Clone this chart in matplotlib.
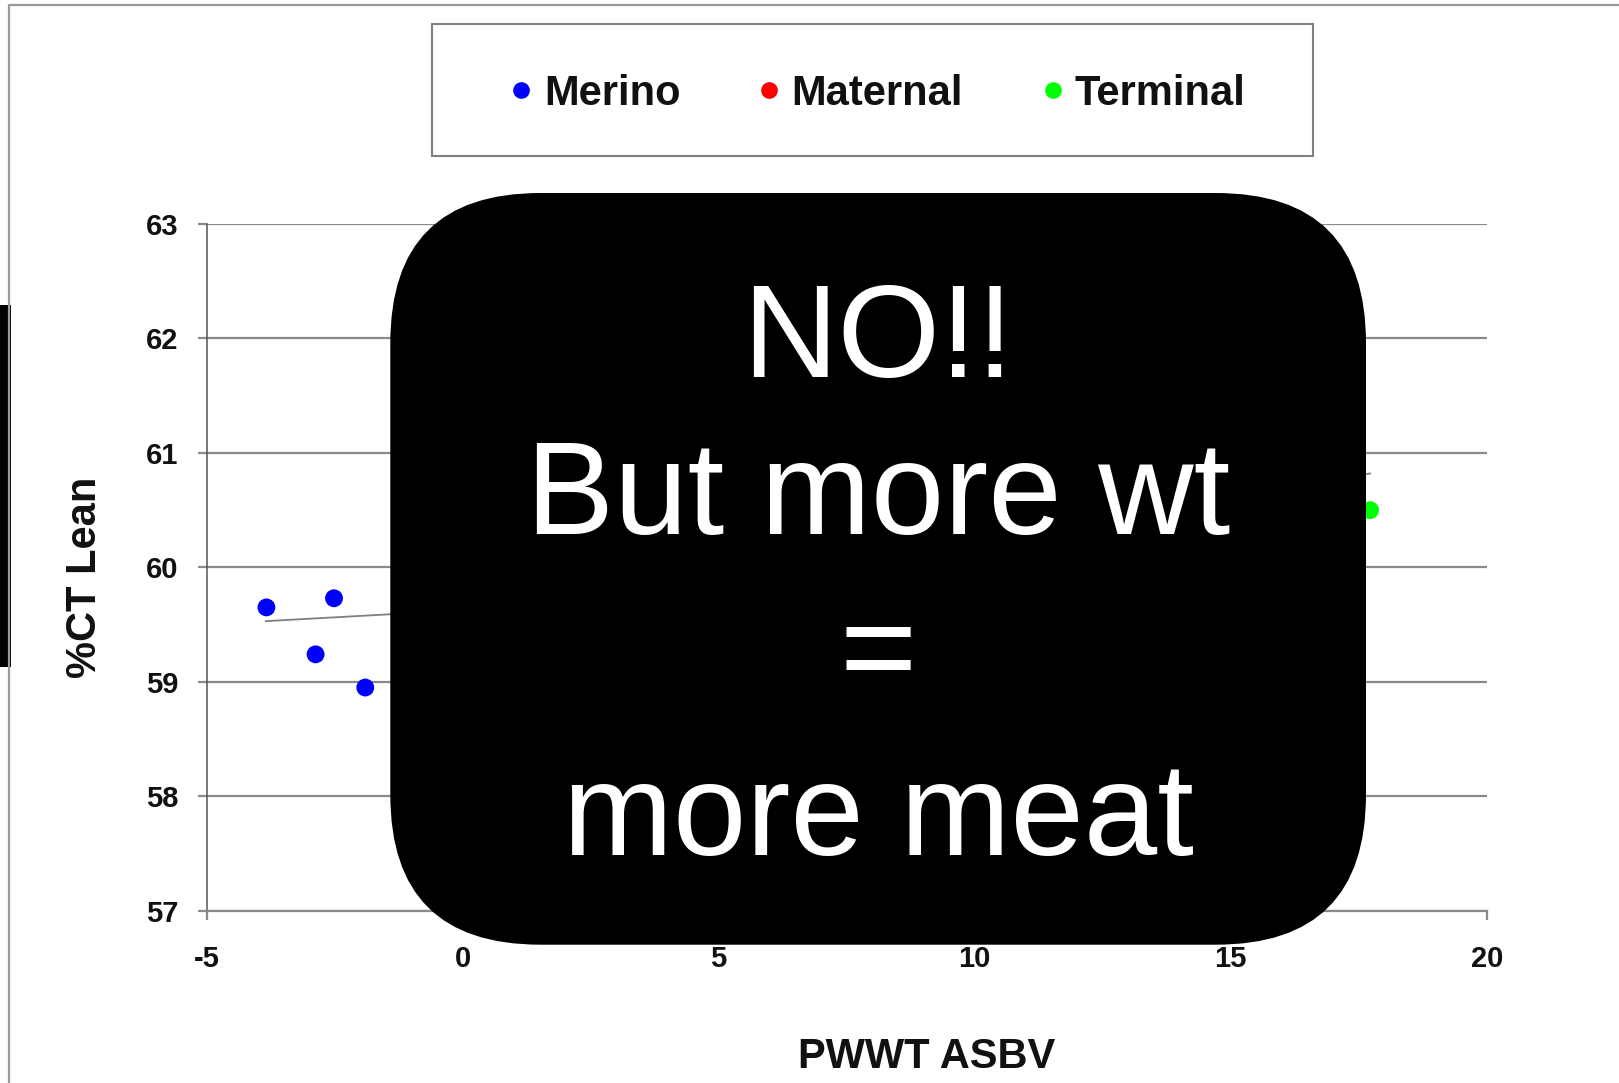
import matplotlib
matplotlib.use("Agg")
import matplotlib.pyplot as plt
from matplotlib.patches import FancyBboxPatch, Rectangle

# ---- data ----
series_names = ["Merino", "Maternal", "Terminal"]
series_colors = ["#0000FF", "#FF0000", "#00FF00"]
merino_x = [-3.83, -2.51, -2.87, -1.90]
merino_y = [59.65, 59.73, 59.24, 58.95]
maternal_x = []
maternal_y = []
terminal_x = [17.72]
terminal_y = [60.50]
trend_x = [-3.84, -1.42, 17.64, 17.72]
trend_y = [59.53, 59.59, 60.815, 60.82]
x_ticks = [-5, 0, 5, 10, 15, 20]
y_ticks = [57, 58, 59, 60, 61, 62, 63]
x_label = "PWWT ASBV"
y_label = "%CT Lean"
box_lines = ["NO!!", "But more wt", "=", "more meat"]

W, H = 1619, 1083
DPI = 100
FONT = ["Liberation Sans", "DejaVu Sans"]
plt.rcParams["font.family"] = FONT
plt.rcParams["axes.unicode_minus"] = False

fig = plt.figure(figsize=(W / DPI, H / DPI), dpi=DPI, facecolor="white")

# main axes, placed in pixels
L, R, T, B = 206.5, 1486.8, 224.0, 910.7
ax = fig.add_axes([L / W, 1 - B / H, (R - L) / W, (B - T) / H])
ax.set_xlim(-5, 20)
ax.set_ylim(57, 63)
ax.set_xticks(x_ticks)
ax.set_yticks(y_ticks)
grid_c = "#8a8a8a"
ax.yaxis.grid(True, color=grid_c, lw=1.6, zorder=0)
ax.set_axisbelow(True)
for s in ["top", "right"]:
    ax.spines[s].set_visible(False)
ax.spines["left"].set_color("#555555")
ax.spines["left"].set_linewidth(1.1)
ax.spines["bottom"].set_color(grid_c)
ax.spines["bottom"].set_linewidth(1.6)
ax.tick_params(axis="y", length=6.5, width=1.6, color=grid_c, pad=13.5,
               labelsize=21, direction="out")
ax.tick_params(axis="x", length=6.5, width=1.6, color=grid_c, pad=18.5,
               labelsize=21, direction="out")
for lab in ax.get_xticklabels() + ax.get_yticklabels():
    lab.set_fontweight("bold")
    lab.set_color("#111111")

# trend line and points
ax.plot(trend_x, trend_y, color="#7f7f7f", lw=1.3, zorder=2)
for xs, ys, c in zip([merino_x, maternal_x, terminal_x],
                     [merino_y, maternal_y, terminal_y], series_colors):
    ax.scatter(xs, ys, s=165, color=c, edgecolors="none", zorder=3)

# axis labels
ax.set_xlabel(x_label, fontsize=30, fontweight="bold", color="#111111")
ax.xaxis.label.set_va("baseline")
ax.xaxis.set_label_coords((927 - L) / (R - L), (B - 1068.5) / (B - T))
ax.set_ylabel(y_label, fontsize=30, fontweight="bold", color="#111111")
ax.yaxis.label.set_rotation_mode("default")
ax.yaxis.label.set_va("center")
ax.yaxis.set_label_coords((84.5 - L) / (R - L), (B - 577) / (B - T))

# overlay axes in pixel coordinates
ov = fig.add_axes([0, 0, 1, 1], zorder=10)
ov.set_xlim(0, W)
ov.set_ylim(H, 0)
ov.axis("off")
ov.patch.set_alpha(0)

# outer chart frame (partially visible)
ov.plot([8.7, 8.7, W + 5], [H + 5, 5, 5], color="#9a9a9a", lw=1.6)
# black bar on the left edge
ov.add_patch(Rectangle((0, 305), 11, 362, facecolor="black", edgecolor="none"))

# legend
ov.add_patch(Rectangle((431.6, 23.7), 881.7, 132.2, facecolor="white",
                       edgecolor="#808080", lw=1.5))
leg_mx = [521.4, 769.2, 1053.2]
leg_tx = [544.1, 790.9, 1074.8]
for name, c, mx, tx in zip(series_names, series_colors, leg_mx, leg_tx):
    ov.plot([mx], [89.8], "o", ms=12, color=c, mec="none")
    ov.text(tx, 89.5, name, fontsize=30, fontweight="bold", color="#111111",
            ha="left", va="center_baseline")

# black rounded box with message
bx0, by0, bx1, by1 = 390.3, 193.0, 1366.0, 944.7
ov.add_patch(FancyBboxPatch((bx0, by0), bx1 - bx0, by1 - by0,
                            boxstyle="round,pad=0,rounding_size=150",
                            facecolor="black", edgecolor="none"))
baselines = [377.0, 534.0, 692.0, 855.0]
cx = (bx0 + bx1) / 2
for txt, yb in zip(box_lines, baselines):
    ov.text(cx, yb, txt, fontsize=95, color="white", ha="center", va="baseline")

fig.savefig("out.png", dpi=DPI, facecolor="white")
